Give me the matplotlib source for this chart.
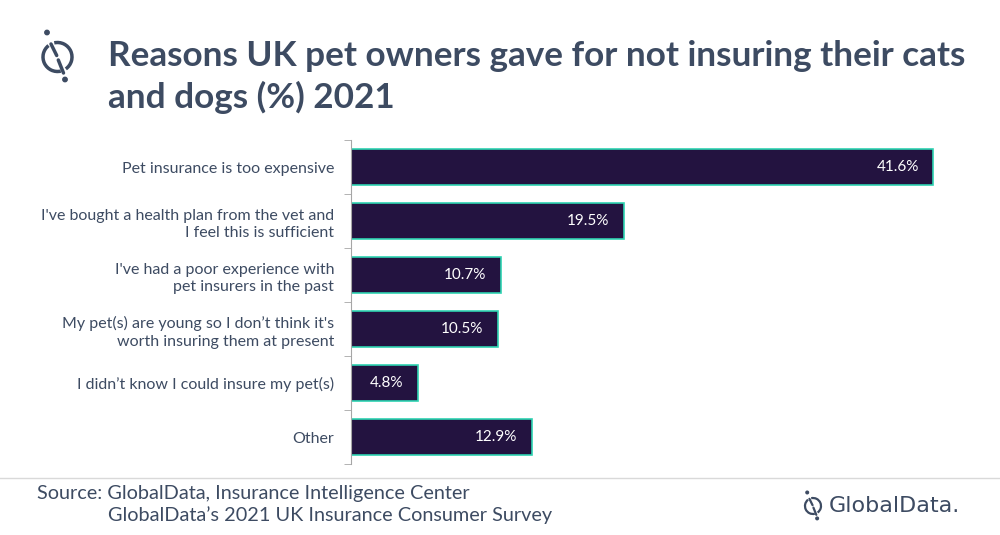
import matplotlib.pyplot as plt
from matplotlib.patches import Arc, Circle
from matplotlib.lines import Line2D

# data
reasons = [
    "Pet insurance is too expensive",
    "I've bought a health plan from the vet and\nI feel this is sufficient",
    "I've had a poor experience with\npet insurers in the past",
    "My pet(s) are young so I don\u2019t think it's\nworth insuring them at present",
    "I didn\u2019t know I could insure my pet(s)",
    "Other",
]
shares = [41.6, 19.5, 10.7, 10.5, 4.8, 12.9]

title = "Reasons UK pet owners gave for not insuring their cats\nand dogs (%) 2021"
source = "Source: GlobalData, Insurance Intelligence Center"
source2 = "GlobalData\u2019s 2021 UK Insurance Consumer Survey"

slate = "#3d4b62"
bar_col = "#231340"
edge_col = "#2fd3b2"

plt.rcParams['font.family'] = ['Lato', 'DejaVu Sans']

fig = plt.figure(figsize=(10, 5.35), dpi=100)
ax = fig.add_axes([0.351, 0.1327, 0.609, 0.6056])

ypos = list(range(len(reasons)))
bars = ax.barh(ypos, shares, height=0.65, color=bar_col, edgecolor=edge_col, linewidth=1.2)
for b, v in zip(bars, shares):
    ax.text(b.get_width() - 1.05, b.get_y() + b.get_height() / 2, f"{v}%",
            ha='right', va='center', color='white', fontsize=11)

ax.set_xlim(0, 43.5)
ax.set_ylim(5.5, -0.5)
ax.set_yticks(ypos)
ax.set_yticklabels(reasons, fontsize=11.5, color=slate, linespacing=1.35)
ax.set_yticks([i + 0.5 for i in range(-1, 6)], minor=True)
ax.tick_params(axis='y', which='major', length=0, pad=12)
ax.tick_params(axis='y', which='minor', length=5, color='#a6a6a6', direction='out')
ax.set_xticks([])
for s in ['top', 'right', 'bottom']:
    ax.spines[s].set_visible(False)
ax.spines['left'].set_color('#a6a6a6')

# title
fig.text(0.108, 1 - 77 / 535, title, fontsize=25.3, fontweight='bold', color=slate,
         va='center', ha='left', linespacing=1.3)

# pixel-space overlay for logos and footer rule (y measured from top)
H = 535
ov = fig.add_axes([0, 0, 1, 1], zorder=-1)
ov.set_xlim(0, 1000)
ov.set_ylim(0, H)
ov.axis('off')


def draw_logo(cx, cy, r, lw, dot):
    cy = H - cy
    ov.add_patch(Arc((cx, cy), 2 * r, 2 * r, theta1=-55, theta2=103, color=slate, lw=lw))
    ov.add_patch(Arc((cx, cy), 2 * r, 2 * r, theta1=128, theta2=283, color=slate, lw=lw))
    k = r / 14.5
    ov.add_line(Line2D([cx - 6.5 * k, cx - 0.8 * k], [cy + 13 * k, cy + 1.5 * k],
                       color=slate, lw=lw, solid_capstyle='round'))
    ov.add_line(Line2D([cx + 0.8 * k, cx + 6.0 * k], [cy - 3 * k, cy - 16 * k],
                       color=slate, lw=lw, solid_capstyle='round'))
    ov.add_patch(Circle((cx - 10.5 * k, cy + 24.5 * k), dot, color=slate))
    ov.add_patch(Circle((cx + 7.5 * k, cy - 22.5 * k), dot, color=slate))


draw_logo(57.5, 57, 14.5, 2.5, 2.2)

# footer
ov.add_line(Line2D([0, 1000], [H - 478, H - 478], color='#d9d9d9', lw=1))
fig.text(0.037, 1 - 493 / H, source, fontsize=14.3, color=slate, va='center')
fig.text(0.108, 1 - 515 / H, source2, fontsize=14.3, color=slate, va='center')

draw_logo(813, 506, 8, 1.6, 1.3)
fig.text(0.829, 1 - 506 / H, "GlobalData.", fontsize=16, color=slate, va='center',
         family=['DejaVu Sans'])

fig.savefig("out.png", dpi=100)
